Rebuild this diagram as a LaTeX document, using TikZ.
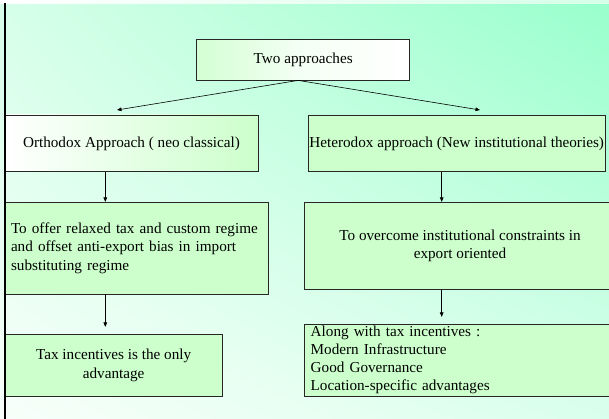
\documentclass[tikz,border=0pt]{standalone}
\usepackage{fontspec}
\setmainfont{Liberation Serif}
\usetikzlibrary{arrows.meta,calc,shadings}
\definecolor{boxgreen}{HTML}{CCFFCC}
\definecolor{mintA}{HTML}{D6FFE9}
\definecolor{mintB}{HTML}{98FFCC}
\definecolor{mintC}{HTML}{F8FFFA}
\definecolor{mintD}{HTML}{DAFFEC}
\begin{document}
\begin{tikzpicture}[x=1pt,y=-1pt,
  box/.style={draw=black!85, line width=0.8pt, fill=boxgreen, inner sep=0pt,
    font=\fontsize{15.2}{18.5}\selectfont},
  arr/.style={draw=black, line width=0.6pt, -{Triangle[length=4.5pt,width=3.6pt]}}]
  % page frame and background
  \clip (0,0) rectangle (609,419);
  \shade[upper left=mintA, upper right=mintB, lower left=mintC, lower right=mintD]
    (0,0) rectangle (609,419);
  \shade[left color=white, right color=mintA] (0,0) rectangle (609,3.3);

  % boxes
  \node[box, minimum width=213pt, minimum height=40.7pt,
        left color=boxgreen!85!white, right color=white, middle color=white!80!boxgreen]
        (two) at (303.2,59.65) {Two approaches};
  \node[box, minimum width=253pt, minimum height=56.7pt,
        left color=white, right color=boxgreen]
        (orth) at (131.5,143.35) {Orthodox Approach ( neo classical)};
  \node[box, minimum width=296.7pt, minimum height=56.7pt]
        (het) at (456.65,143.35) {Heterodox approach (New institutional theories)};
  \node[box, minimum width=263.3pt, minimum height=91.7pt, inner xsep=6pt,
        text width=251.3pt, align=left]
        (offer) at (136.65,248.15) {To offer relaxed tax and custom regime\\
        and offset anti-export bias in import\\ substituting regime};
  \node[box, minimum width=312pt, minimum height=86.7pt, align=center]
        (overcome) at (460,245.65) {To overcome institutional constraints in\\ export oriented};
  \node[box, minimum width=217.3pt, minimum height=61.7pt, align=center]
        (tax) at (113.65,365.15) {Tax incentives is the only\\ advantage};
  \node[box, minimum width=312pt, minimum height=71.7pt, inner xsep=6.7pt,
        text width=298.6pt, align=left, font=\fontsize{15.2}{18.1}\selectfont]
        (along) at (460,360.15) {Along with tax incentives :\\ Modern Infrastructure\\
        Good Governance\\ Location-specific advantages};

  % connectors
  \coordinate (tipL) at (117,110);
  \coordinate (tipR) at (480,110);
  \coordinate (lx) at (105.3,0);
  \coordinate (rx) at (441.7,0);
  \draw[arr] ([xshift=-5pt]two.south) -- (tipL);
  \draw[arr] ([xshift=-5pt]two.south) -- (tipR);
  \draw[arr] (orth.south -| lx) -- (offer.north -| lx);
  \draw[arr] (het.south -| rx) -- (overcome.north -| rx);
  \draw[arr] (offer.south -| lx) -- ($(tax.north -| lx)+(0,-7)$);
  \draw[arr] (overcome.south -| rx) -- ($(along.north -| rx)+(0,-7)$);

  % left rule
  \fill[black] (3.6,3.3) rectangle (6,419);
\end{tikzpicture}
\end{document}
